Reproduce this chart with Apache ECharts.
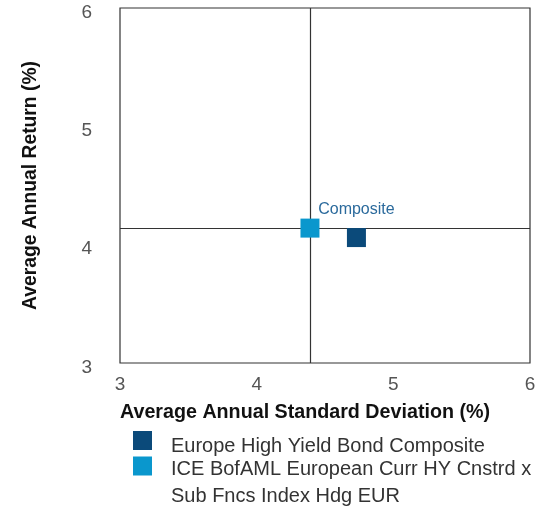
<!DOCTYPE html>
<html><head><meta charset="utf-8">
<script src="https://cdn.jsdelivr.net/npm/echarts@6/dist/echarts.min.js"></script>
<style>html,body{margin:0;padding:0;background:#fff}#c{width:539px;height:510px}</style>
</head><body><div id="c"></div>
<script>
const seriesNames = ['Europe High Yield Bond Composite', 'ICE BofAML European Curr HY Cnstrd x Sub Fncs Index Hdg EUR'];
const legendLines = ['ICE BofAML European Curr HY Cnstrd x', 'Sub Fncs Index Hdg EUR'];
const compositeStdDev = [4.73];
const compositeReturn = [4.06];
const indexStdDev = [4.39];
const indexReturn = [4.14];
const xTicks = [3, 4, 5, 6];
const yTicks = [3, 4, 5, 6];
const pointLabel = 'Composite';
const xAxisName = 'Average Annual Standard Deviation (%)';
const yAxisName = 'Average Annual Return (%)';

const font = 'Liberation Sans, Arial, sans-serif';
const chart = echarts.init(document.getElementById('c'));
chart.setOption({
  animation: false,
  grid: {left: 120, right: 9, top: 8, bottom: 147, show: true, borderColor: '#333', borderWidth: 1.2,
    containLabel: false, outerBoundsMode: 'none'},
  xAxis: {
    type: 'value', min: xTicks[0], max: xTicks[xTicks.length-1], interval: 1,
    axisLine: {show: false}, axisTick: {show: false}, splitLine: {show: false},
    axisLabel: {color: '#555', fontSize: 19, fontFamily: font, margin: 12},
    name: xAxisName, nameLocation: 'middle', nameGap: 40,
    nameTextStyle: {fontWeight: 'bold', fontSize: 19.7, color: '#111', fontFamily: font, padding: [0, 40, 0, 0]}
  },
  yAxis: {
    type: 'value', min: yTicks[0], max: yTicks[yTicks.length-1], interval: 1,
    axisLine: {show: false}, axisTick: {show: false}, splitLine: {show: false},
    axisLabel: {color: '#555', fontSize: 19, fontFamily: font, margin: 28, lineHeight: 9,
      formatter: function(v){ return '\n' + v; }},
    name: yAxisName, nameLocation: 'middle', nameGap: 80,
    nameTextStyle: {fontWeight: 'bold', fontSize: 19.3, color: '#111', fontFamily: font}
  },
  legend: [{
    orient: 'vertical', left: 133, top: 424.5, padding: 0, itemWidth: 19, itemHeight: 19,
    icon: 'rect', data: [seriesNames[0]],
    formatter: function(n){ return '\n' + n; },
    textStyle: {fontSize: 20, color: '#333', fontFamily: font, lineHeight: 12, padding: [0, 0, 0, 14]}
  }, {
    orient: 'vertical', left: 133, top: 429, padding: 0, itemWidth: 19, itemHeight: 19,
    icon: 'rect', data: [seriesNames[1]],
    formatter: function(n){ return '{s| }\n{t|' + legendLines[0] + '}\n{t|' + legendLines[1] + '}'; },
    textStyle: {fontSize: 20, color: '#333', fontFamily: font, padding: [0, 0, 0, 14],
      rich: {
        s: {fontSize: 20, lineHeight: 33, fontFamily: font},
        t: {fontSize: 20, lineHeight: 27, color: '#333', fontFamily: font}
      }}
  }],
  series: [{
    name: seriesNames[1], type: 'scatter', symbol: 'rect', symbolSize: 19,
    itemStyle: {color: '#0a97cd', opacity: 1},
    data: indexStdDev.map((x, i) => [x, indexReturn[i]]),
    z: 3,
    markLine: {
      silent: true, symbol: ['none', 'none'], label: {show: false},
      lineStyle: {color: '#333', width: 1.2, type: 'solid'},
      data: [{xAxis: indexStdDev[0]}, {yAxis: indexReturn[0]}],
      z: 1
    }
  }, {
    name: seriesNames[0], type: 'scatter', symbol: 'rect', symbolSize: 19,
    itemStyle: {color: '#0b4a7a', opacity: 1},
    data: compositeStdDev.map((x, i) => [x, compositeReturn[i]]),
    z: 3,
    label: {show: true, position: 'top', distance: 10, formatter: pointLabel,
      color: '#2b6a9c', fontSize: 16, fontFamily: font}
  }]
});
</script></body></html>
